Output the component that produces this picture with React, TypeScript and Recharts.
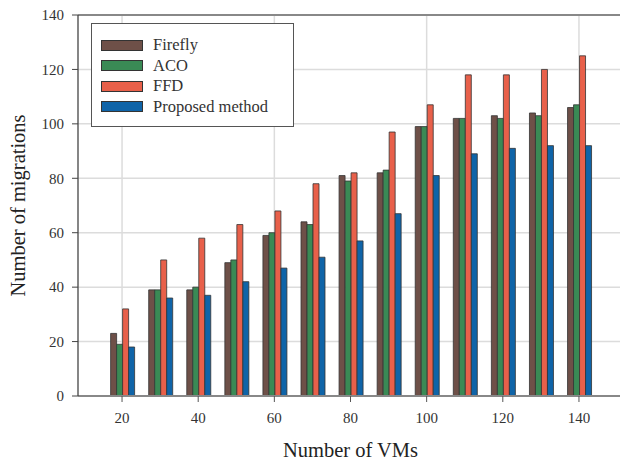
import { BarChart, Bar, XAxis, YAxis, CartesianGrid, Legend, ReferenceLine } from 'recharts';

const vmCounts = [20, 30, 40, 50, 60, 70, 80, 90, 100, 110, 120, 130, 140];
const firefly = [23, 39, 39, 49, 59, 64, 81, 82, 99, 102, 103, 104, 106];
const aco = [19, 39, 40, 50, 60, 63, 79, 83, 99, 102, 102, 103, 107];
const ffd = [32, 50, 58, 63, 68, 78, 82, 97, 107, 118, 118, 120, 125];
const proposed = [18, 36, 37, 42, 47, 51, 57, 67, 81, 89, 91, 92, 92];
const yTicks = [0, 20, 40, 60, 80, 100, 120, 140];
const xGridValues = [20, 40, 60, 80, 100, 120, 140];
const seriesOrder = ['Firefly', 'ACO', 'FFD', 'Proposed method'];

const data = vmCounts.map((vms, i) => ({
  vms,
  firefly: firefly[i],
  aco: aco[i],
  ffd: ffd[i],
  proposed: proposed[i],
}));

const FONT = '"Liberation Serif", "Times New Roman", serif';

const LegendBox = ({ payload }: any) => {
  const items = [...(payload || [])].sort(
    (a: any, b: any) => seriesOrder.indexOf(a.value) - seriesOrder.indexOf(b.value)
  );
  return (
    <div
      style={{
        boxSizing: 'border-box',
        width: 203,
        height: 104,
        border: '1.3px solid #555',
        background: '#fff',
        paddingTop: 11,
        paddingLeft: 9,
        fontFamily: FONT,
        fontSize: 16.5,
        color: '#333',
      }}
    >
      {items.map((p: any) => (
        <div key={p.value} style={{ display: 'flex', alignItems: 'center', height: 20.5 }}>
          <span
            style={{
              display: 'inline-block',
              boxSizing: 'border-box',
              width: 42,
              height: 11,
              background: p.color,
              border: '1px solid #333',
              marginRight: 10,
            }}
          />
          <span style={{ lineHeight: '20px' }}>{p.value}</span>
        </div>
      ))}
    </div>
  );
};

const YLabel = ({ viewBox }: any) => {
  const cx = viewBox.x + 7;
  const cy = viewBox.y + viewBox.height / 2;
  return (
    <text
      x={cx}
      y={cy}
      transform={`rotate(-90, ${cx}, ${cy})`}
      textAnchor="middle"
      fontFamily={FONT}
      fontSize={20.5}
      fill="#222"
    >
      Number of migrations
    </text>
  );
};

export default function App() {
  return (
    <div style={{ position: 'absolute', left: 0, top: 0, width: 620, height: 461, overflow: 'hidden', background: '#fff' }}>
      <BarChart
        width={620}
        height={461}
        data={data}
        margin={{ top: 15, right: -3, bottom: 0, left: 18 }}
        barCategoryGap="20%"
        barGap={0}
      >
        <CartesianGrid stroke="#dcdcdc" strokeWidth={1.5} verticalValues={xGridValues} />
        <XAxis
          dataKey="vms"
          type="category"
          interval={1}
          height={65}
          padding={{ left: 25, right: 25 }}
          tickSize={6}
          tickMargin={10}
          axisLine={{ stroke: '#888', strokeWidth: 2 }}
          tickLine={{ stroke: '#555' }}
          tick={{ fill: '#333', fontSize: 15, fontFamily: FONT }}
          label={{
            value: 'Number of VMs',
            position: 'insideBottom',
            offset: 4,
            style: { fontSize: 20.5, fontFamily: FONT, fill: '#222' },
          }}
        />
        <YAxis
          domain={[0, 140]}
          ticks={yTicks}
          width={60}
          tickSize={6}
          tickMargin={8}
          axisLine={{ stroke: '#444', strokeWidth: 1.3 }}
          tickLine={{ stroke: '#444' }}
          tick={{ fill: '#333', fontSize: 15, fontFamily: FONT }}
          label={<YLabel />}
        />
        <ReferenceLine y={140} stroke="#888" strokeWidth={2} />
        <Legend
          layout="vertical"
          align="center"
          verticalAlign="middle"
          wrapperStyle={{ left: 91, top: 23, width: 203, height: 104 }}
          content={<LegendBox />}
        />
        <Bar dataKey="firefly" name="Firefly" fill="#6e5048" stroke="#333" strokeWidth={0.8} isAnimationActive={false} />
        <Bar dataKey="aco" name="ACO" fill="#3a8a55" stroke="#333" strokeWidth={0.8} isAnimationActive={false} />
        <Bar dataKey="ffd" name="FFD" fill="#e8604a" stroke="#333" strokeWidth={0.8} isAnimationActive={false} />
        <Bar dataKey="proposed" name="Proposed method" fill="#0f64a8" stroke="#333" strokeWidth={0.8} isAnimationActive={false} />
      </BarChart>
    </div>
  );
}
